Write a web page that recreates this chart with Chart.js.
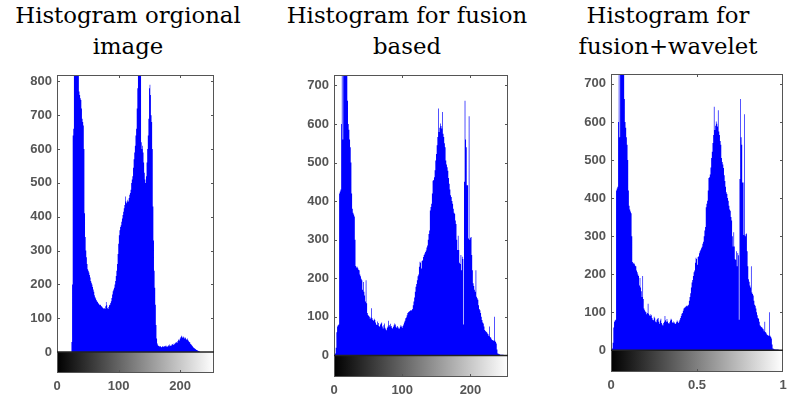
<!DOCTYPE html>
<html>
<head>
<meta charset="utf-8">
<script src="https://cdn.jsdelivr.net/npm/chart.js@4.4.1/dist/chart.umd.min.js"></script>
<style>
  html, body { margin: 0; padding: 0; background: #fff; }
  body { width: 789px; height: 396px; position: relative; overflow: hidden; }
  .title { position: absolute; top: 0px; transform: translateX(-50%); font-family: 'DejaVu Serif', serif;
           font-size: 22.8px; line-height: 31px; text-align: center; color: #000; white-space: nowrap; }
  canvas { position: absolute; }
</style>
</head>
<body>
<div class="title" style="left:128px">Histogram orgional<br>image</div>
<div class="title" style="left:407px">Histogram for fusion<br>based</div>
<div class="title" style="left:668px">Histogram for<br>fusion+wavelet</div>

<canvas id="h1" width="208" height="330" style="left:12px;top:69px"></canvas>
<canvas id="h2" width="225" height="334" style="left:289px;top:69px"></canvas>
<canvas id="h3" width="223" height="330" style="left:566px;top:68px"></canvas>

<script>
// gray levels of the 256 histogram bins
const binLevels = Array.from({ length: 256 }, (_, i) => i)

const originalCounts = [
    0, 0, 0, 0, 0, 0, 0, 0, 0, 0, 0, 0, 0, 0, 0, 0,
    0, 0, 0, 0, 0, 0, 0, 0, 30, 200, 640, 660, 900, 1100, 1000, 950,
    900, 880, 850, 830, 770, 760, 750, 745, 720, 690, 680, 670, 600, 410, 340, 300,
    280, 260, 245, 240, 235, 228, 220, 210, 205, 200, 192, 185, 178, 168, 162, 158,
    154, 150, 148, 145, 142, 140, 138, 140, 136, 134, 132, 130, 128, 130, 127, 135,
    148, 138, 130, 127, 133, 138, 140, 145, 150, 160, 170, 180, 185, 190, 200, 210,
    225, 240, 260, 290, 320, 345, 360, 370, 375, 385, 395, 405, 415, 425, 435, 460,
    445, 440, 445, 450, 445, 455, 465, 470, 480, 500, 510, 520, 545, 570, 590, 610,
    640, 660, 720, 780, 880, 1000, 1200, 950, 850, 620, 600, 610, 590, 560, 530, 510,
    500, 520, 560, 600, 640, 690, 780, 790, 760, 700, 680, 600, 430, 330, 240, 190,
    140, 80, 40, 25, 20, 18, 17, 16, 18, 15, 14, 16, 17, 15, 18, 16,
    17, 19, 16, 15, 18, 20, 17, 22, 19, 18, 20, 24, 22, 21, 25, 23,
    26, 28, 30, 27, 32, 35, 38, 34, 40, 44, 48, 45, 42, 46, 43, 40,
    44, 41, 38, 36, 40, 35, 32, 30, 28, 24, 22, 20, 18, 15, 13, 12,
    10, 9, 7, 6, 5, 4, 3, 2, 1, 0, 0, 0, 0, 0, 0, 0,
    0, 0, 0, 0, 0, 0, 0, 0, 0, 0, 0, 0, 0, 0, 0, 0
]

const fusionCounts = [
    0, 0, 5, 20, 60, 75, 78, 80, 420, 425, 430, 600, 800, 560, 900, 820,
    790, 780, 760, 740, 660, 600, 585, 560, 540, 500, 420, 380, 370, 365, 360, 300,
    232, 228, 230, 226, 222, 221, 210, 205, 199, 195, 170, 190, 165, 155, 140, 195,
    135, 110, 105, 102, 100, 95, 98, 122, 96, 92, 90, 95, 92, 85, 80, 79,
    88, 84, 76, 74, 80, 83, 85, 75, 70, 78, 83, 72, 68, 65, 72, 75,
    90, 79, 75, 82, 76, 72, 70, 74, 78, 83, 80, 74, 72, 76, 73, 70,
    70, 74, 78, 75, 72, 76, 80, 85, 90, 96, 98, 104, 110, 112, 113, 115,
    117, 116, 118, 120, 130, 140, 150, 165, 178, 185, 195, 205, 210, 230, 243, 240,
    225, 245, 247, 255, 260, 264, 268, 272, 280, 285, 300, 315, 324, 376, 385, 393,
    420, 453, 455, 462, 480, 505, 522, 545, 566, 640, 579, 590, 601, 595, 588, 631,
    575, 566, 550, 540, 505, 495, 488, 479, 460, 445, 430, 415, 411, 400, 393, 380,
    370, 367, 350, 341, 300, 273, 310, 273, 240, 237, 260, 221, 256, 250, 80, 450,
    660, 560, 540, 441, 441, 303, 620, 300, 305, 307, 260, 221, 187, 180, 170, 165,
    221, 152, 148, 144, 130, 120, 117, 110, 100, 92, 85, 83, 75, 66, 63, 61,
    60, 57, 55, 50, 75, 48, 46, 42, 40, 39, 38, 100, 38, 35, 31, 15,
    5, 4, 3, 3, 2, 2, 2, 2, 2, 0, 0, 0, 0, 0, 0, 0
]

// the fusion+wavelet panel shows the same counts, only its x axis runs 0..1
const waveletCounts = fusionCounts

// tick labels
const yTicksOriginal = [0, 100, 200, 300, 400, 500, 600, 700, 800]
const yTicksFusion = [0, 100, 200, 300, 400, 500, 600, 700]
const xTicksGray = [0, 100, 200]
const xLabelsGray = ['0', '100', '200']
const xTicksUnit = [0, 127.5, 255]
const xLabelsUnit = ['0', '0.5', '1']

const tickFont = { family: 'Liberation Sans', size: 13, weight: 'bold' }
const tickColor = '#555'

// colour bar under the histogram + MATLAB style box with inner ticks
const matlabFrame = {
    id: 'matlabFrame',
    beforeDatasetsDraw(chart) {
        const { ctx, chartArea: a, scales: { x, y } } = chart
        const y0 = y.getPixelForValue(0)
        const g = ctx.createLinearGradient(x.getPixelForValue(x.min), 0, x.getPixelForValue(x.max), 0)
        g.addColorStop(0, '#000')
        g.addColorStop(1, '#fff')
        ctx.save()
        ctx.fillStyle = g
        ctx.fillRect(a.left, y0, a.width, a.bottom - y0)
        ctx.restore()
    },
    afterDatasetsDraw(chart) {
        const { ctx, chartArea: a, scales: { x, y } } = chart
        const y0 = y.getPixelForValue(0)
        ctx.save()
        ctx.strokeStyle = '#555'
        ctx.lineWidth = 1
        ctx.strokeRect(a.left + 0.5, a.top + 0.5, a.width - 1, a.height - 1)
        ctx.beginPath()
        y.ticks.forEach(t => {
            if (t.value === 0) return
            const p = Math.round(y.getPixelForValue(t.value)) + 0.5
            ctx.moveTo(a.left, p); ctx.lineTo(a.left + 3, p)
            ctx.moveTo(a.right - 3, p); ctx.lineTo(a.right, p)
        })
        x.ticks.forEach(t => {
            if (t.value <= x.min || t.value >= x.max) return
            const p = Math.round(x.getPixelForValue(t.value)) + 0.5
            ctx.moveTo(p, a.top); ctx.lineTo(p, a.top + 3)
            ctx.moveTo(p, a.bottom - 3); ctx.lineTo(p, a.bottom)
        })
        ctx.stroke()
        ctx.strokeStyle = '#222'
        ctx.lineWidth = 1.5
        ctx.beginPath()
        ctx.moveTo(a.left, y0); ctx.lineTo(a.right, y0)
        ctx.stroke()
        ctx.restore()
    }
}

function histogram(id, counts, yMin, yMax, yTicks, xTicks, xLabels) {
    const ctx = document.getElementById(id).getContext('2d')
    return new Chart(ctx, {
        type: 'line',
        data: {
            datasets: [{
                data: counts.map((c, i) => ({ x: binLevels[i], y: c })),
                stepped: 'middle',
                fill: 'origin',
                backgroundColor: '#0000ff',
                borderColor: 'rgba(0,0,0,0)',
                borderWidth: 0,
                pointRadius: 0
            }]
        },
        options: {
            responsive: false,
            animation: false,
            layout: { padding: { top: 6, right: 6, left: 0, bottom: 0 } },
            plugins: { legend: { display: false }, tooltip: { enabled: false } },
            scales: {
                x: {
                    type: 'linear',
                    min: 0,
                    max: 255,
                    grid: { display: false, drawTicks: false },
                    border: { display: false },
                    afterBuildTicks: s => { s.ticks = xTicks.map(v => ({ value: v })) },
                    afterFit: s => { s.height = 26; s.paddingLeft = 0; s.paddingRight = 0 },
                    ticks: {
                        autoSkip: false,
                        maxRotation: 0,
                        padding: 6,
                        font: tickFont,
                        color: tickColor,
                        callback: (v, i) => xLabels[i]
                    }
                },
                y: {
                    min: yMin,
                    max: yMax,
                    grid: { display: false, drawTicks: false },
                    border: { display: false },
                    afterBuildTicks: s => { s.ticks = yTicks.map(v => ({ value: v })) },
                    afterFit: s => { s.width = 45; s.paddingTop = 0; s.paddingBottom = 0 },
                    ticks: {
                        padding: 5,
                        font: tickFont,
                        color: tickColor
                    }
                }
            }
        },
        plugins: [matlabFrame]
    })
}

histogram('h1', originalCounts, -62, 819, yTicksOriginal, xTicksGray, xLabelsGray)
histogram('h2', fusionCounts, -56, 727, yTicksFusion, xTicksGray, xLabelsGray)
histogram('h3', waveletCounts, -57, 726, yTicksFusion, xTicksUnit, xLabelsUnit)
</script>
</body>
</html>
